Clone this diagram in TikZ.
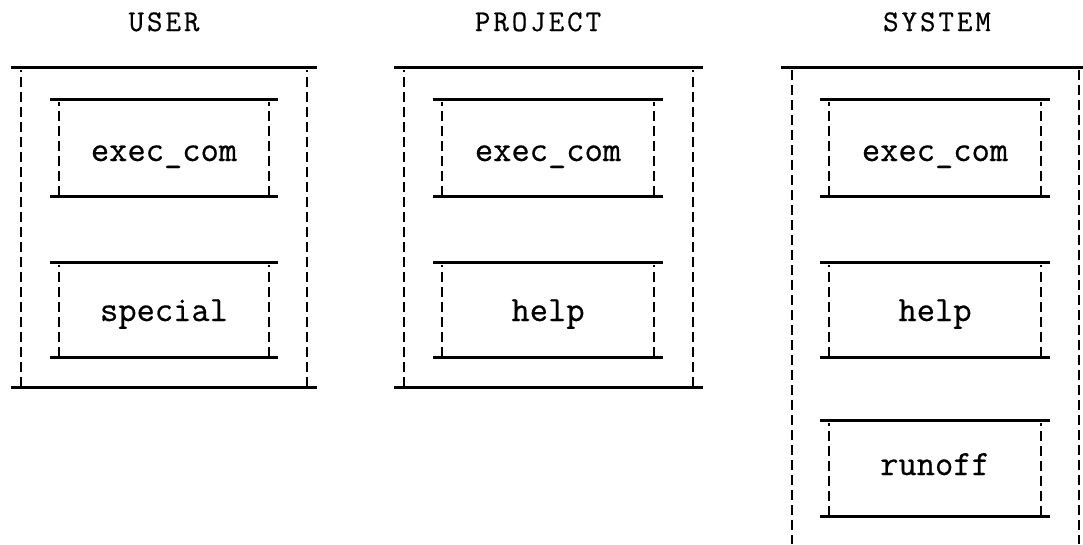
\documentclass[tikz,border=0pt]{standalone}
\usepackage{fontspec}
\newfontfamily\typewriter[FakeBold=0.6]{Latin Modern Mono}
\begin{document}
\begin{tikzpicture}[x=1pt,y=-1pt,
  rule/.style={line width=3pt},
  side/.style={line width=2.8pt,dash pattern=on 10pt off 5pt},
  heading/.style={font=\typewriter\addfontfeature{LetterSpace=10}\fontsize{30}{30}\selectfont,inner sep=0pt,anchor=base},
  entry/.style={font=\typewriter\fontsize{35.5}{35.5}\selectfont,inner sep=0pt,anchor=base}]
\useasboundingbox (0,0) rectangle (1083,544);

% segment box: left, right, top, bottom, inset of the dashed sides
\newcommand\segbox[5]{%
  \draw[rule] (#1,#3) -- (#2,#3);
  \draw[rule] (#1,#4) -- (#2,#4);
  \draw[side] ({#1+#5},#4) -- ({#1+#5},{#3+3});
  \draw[side] ({#2-#5},#4) -- ({#2-#5},{#3+3});}

% directory headings
\node[heading] (huser) at (164,31) {USER};
\node[heading] (hproj) at (538,31) {PROJECT};
\node[heading] (hsys)  at (937,31) {SYSTEM};

% USER directory
\segbox{11}{317}{67}{387}{10}
\segbox{50}{278}{99}{196}{9}
\segbox{50}{278}{262}{357}{9}
\node[entry] (uexec) at (164,161) {exec\_com};
\node[entry] (uspec) at (164,321) {special};

% PROJECT directory
\segbox{394}{703}{67}{387}{10}
\segbox{433}{663}{99}{196}{9}
\segbox{433}{663}{262}{357}{9}
\node[entry] (pexec) at (548,161) {exec\_com};
\node[entry] (phelp) at (548,321) {help};

% SYSTEM directory, continuing past the lower edge
\draw[rule] (781,67) -- (1083,67);
\draw[side] (792,70) -- (792,544);
\draw[side] (1079,70) -- (1079,544);
\segbox{820}{1050}{99}{196}{9}
\segbox{820}{1050}{262}{357}{9}
\segbox{820}{1050}{420}{516}{9}
\node[entry] (sexec) at (935,161) {exec\_com};
\node[entry] (shelp) at (935,321) {help};
\node[entry] (srun)  at (935,475) {runoff};
\end{tikzpicture}
\end{document}
